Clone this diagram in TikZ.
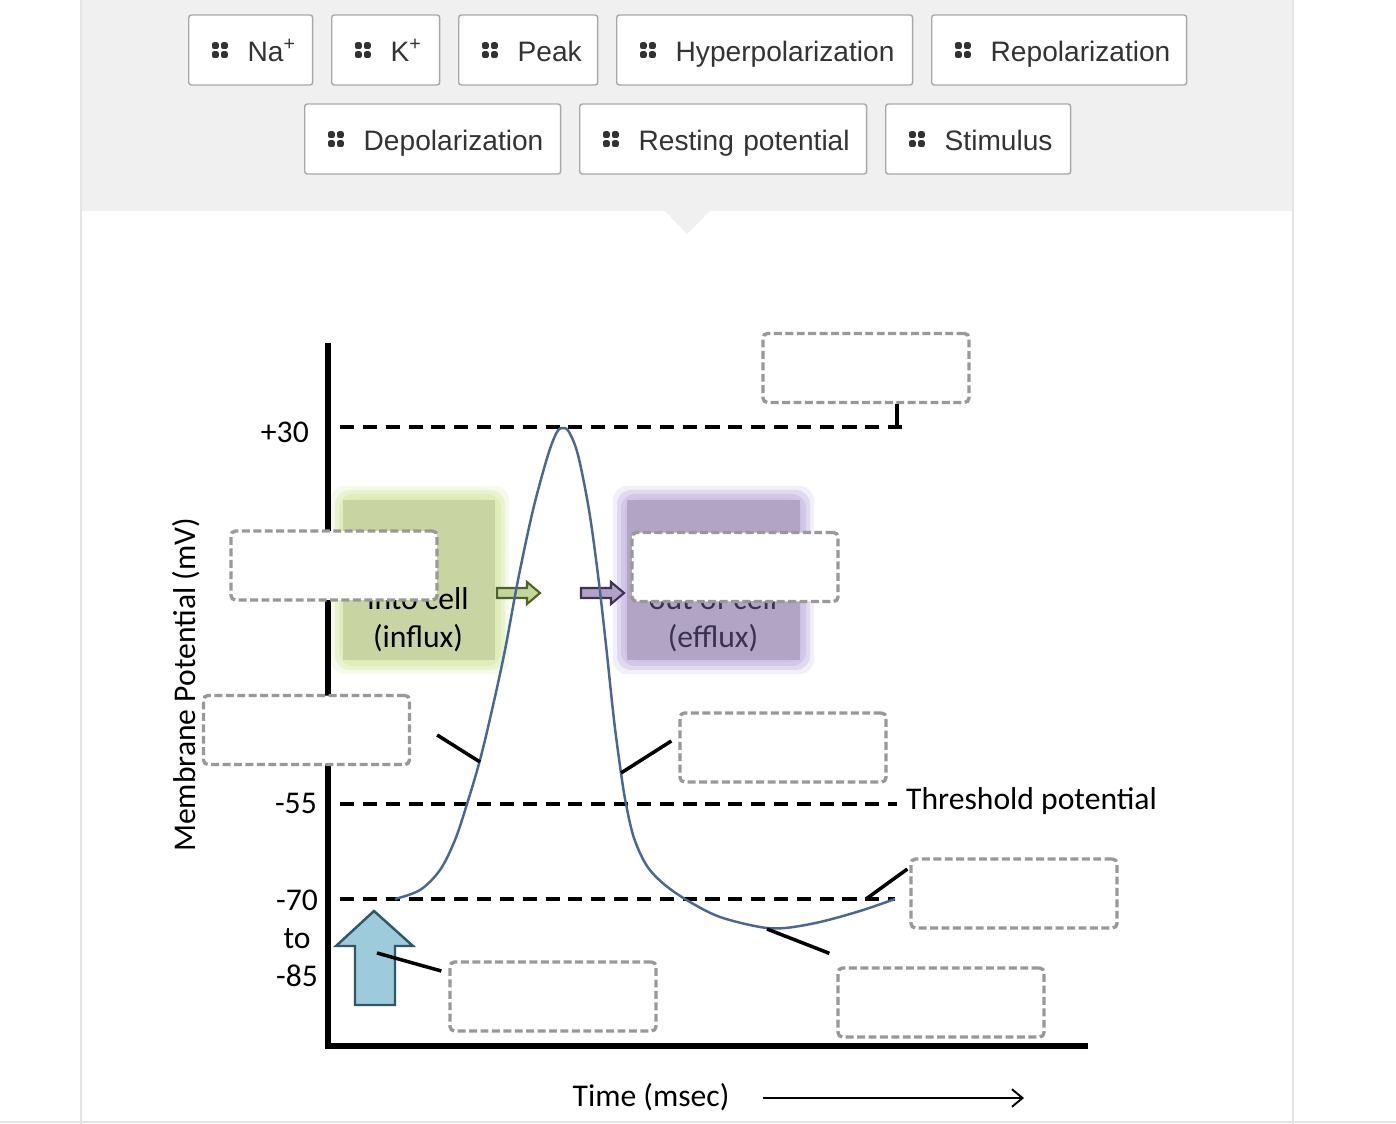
\documentclass[tikz,border=0pt]{standalone}
\usepackage{fontspec}
\setmainfont{Carlito}
\newfontfamily\btnfont{Liberation Sans}
\usetikzlibrary{arrows.meta}
\definecolor{bandgray}{HTML}{F0F0F0}
\definecolor{edgegray}{HTML}{E4E4E4}
\definecolor{btnedge}{HTML}{A8A8A8}
\definecolor{btntext}{HTML}{333333}
\definecolor{slotgray}{HTML}{999999}
\definecolor{curveblue}{HTML}{4A6791}
\definecolor{inglow}{HTML}{DDECB2}
\definecolor{infill}{HTML}{C8D5A2}
\definecolor{outglow}{HTML}{CEC0E5}
\definecolor{outfill}{HTML}{B1A4C5}
\definecolor{intip}{HTML}{C3D69B}
\definecolor{inedge}{HTML}{4F6228}
\definecolor{outtip}{HTML}{B3A2C7}
\definecolor{outedge}{HTML}{3F3151}
\definecolor{stimfill}{HTML}{9DCBDC}
\definecolor{stimedge}{HTML}{2E5866}
\definecolor{effluxtext}{HTML}{3A3150}

\begin{document}
\begin{tikzpicture}[
  x=0.02cm, y=-0.02cm,
  btn/.style={draw=btnedge, fill=white, rounded corners=1.5pt, line width=0.8pt, anchor=west,
    minimum height=1.4cm, inner xsep=0pt, text height=15pt, text depth=1.9pt, align=left,
    text=btntext, font=\btnfont\fontsize{16}{19}\selectfont},
  slot/.style={draw=slotgray, fill=white, dash pattern=on 4.5pt off 2pt, line width=1.9pt,
    rounded corners=2.5pt, minimum width=4.12cm, minimum height=1.38cm},
  level/.style={dash pattern=on 8pt off 5pt, line width=2pt},
  pointer/.style={line width=2pt},
  axis/.style={line width=3pt},
  lbl/.style={font=\fontsize{18}{21.6}\selectfont, align=center}
]
\useasboundingbox (0,0) rectangle (1396,1124);
\fill[white] (0,0) rectangle (1396,1124);

\fill[bandgray] (81,0) rectangle (1293,211);
\fill[bandgray] (665,211) -- (687,234) -- (710,211) -- cycle;
\draw[edgegray, line width=1.2pt] (81,0) -- (81,1124);
\draw[edgegray, line width=1.2pt] (1293,0) -- (1293,1124);
\draw[edgegray, line width=1.2pt] (0,1122) -- (1396,1122);

\node[btn, text width=2.48cm] (bna) at (188,50) {\hspace*{1.18cm}Na\textsuperscript{+}};
\node[btn, text width=2.16cm] (bk) at (331,50) {\hspace*{1.18cm}K\textsuperscript{+}};
\node[btn, text width=2.78cm] (bpeak) at (458,50) {\hspace*{1.18cm}Peak};
\node[btn, text width=5.92cm] (bhyper) at (616,50) {\hspace*{1.18cm}Hyperpolarization};
\node[btn, text width=5.10cm] (brepo) at (931,50) {\hspace*{1.18cm}Repolarization};
\node[btn, text width=5.12cm] (bdepo) at (304,139) {\hspace*{1.18cm}Depolarization};
\node[btn, text width=5.74cm] (brest) at (579,139) {\hspace*{1.18cm}Resting potential};
\node[btn, text width=3.70cm] (bstim) at (885,139) {\hspace*{1.18cm}Stimulus};
\foreach \b in {bna,bk,bpeak,bhyper,brepo,bdepo,brest,bstim}
  \foreach \dx in {0,9}
    \foreach \dy in {-4.5,4.5}
      \fill[btntext, rounded corners=1.2pt] (\b.west) ++(24+\dx,\dy-3.3) rectangle ++(6.8,6.8);

\foreach \g/\o in {14/0.25, 10/0.45, 6/0.7, 2/1}
  \fill[inglow, opacity=\o, rounded corners=8pt] (345-\g,500-\g) rectangle (495+\g,660+\g);
\fill[infill] (343,500) rectangle (495,660);
\foreach \g/\o in {14/0.25, 10/0.45, 6/0.7, 2/1}
  \fill[outglow, opacity=\o, rounded corners=8pt] (627-\g,500-\g) rectangle (800+\g,660+\g);
\fill[outfill] (627,500) rectangle (800,660);
\node[lbl] (naflow) at (418,620) {into cell\\(influx)};
\node[lbl, text=effluxtext] (kflow) at (713,620) {out of cell\\(efflux)};
\foreach \x/\f/\d in {497/intip/inedge, 581/outtip/outedge}
  \draw[fill=\f, draw=\d, line width=1.2pt] (\x,588) -- (\x+30,588) -- (\x+30,582) -- (\x+43,593)
    -- (\x+30,604) -- (\x+30,598) -- (\x,598) -- cycle;

\node[lbl, anchor=east] (lpeak) at (315,432) {+30};
\node[lbl, anchor=east] (lthr) at (323,803) {-55};
\node[lbl] (lrest) at (297,938) {-70\\to\\-85};
\node[lbl, anchor=west] (thr) at (900,801) {Threshold potential};
\node[lbl, rotate=90] (vaxis) at (186,685) {Membrane Potential (mV)};
\node[lbl] (taxis) at (651,1097) {Time (msec)};
\coordinate (tend) at (1024,1098);
\draw[line width=1.1pt, -{Straight Barb[length=6pt,width=10pt]}] ([shift={(27,1)}]taxis.east) -- (tend);

\draw[level] (340,427) -- (908,427);
\draw[level] (340,804) -- (897,804);
\draw[level] (340,899) -- (895,899);

\draw[axis] (328,343) -- (328,1046) -- (1088,1046);

\draw[fill=stimfill, draw=stimedge, line width=1.4pt] (374,911) -- (413,946) -- (395,946) -- (395,1005)
  -- (355,1005) -- (355,946) -- (336,946) -- cycle;
\coordinate (stim) at (377,953);

\draw[curveblue, line width=1.4pt] plot[smooth, tension=0.55] coordinates {
  (395,899) (420,890) (440,870) (455,840) (467,804) (480,760) (492,710) (505,650) (518,580)
  (533,510) (548,455) (557,432) (563,428) (569,432) (578,455) (589,510) (598,575) (606,645)
  (614,720) (621,773) (626,804) (634,838) (647,866) (665,885) (690,902) (720,917) (760,927)
  (785,928) (820,922) (860,911) (895,899)};
\coordinate (peakend) at (897,427);
\coordinate (depoend) at (480,762);
\coordinate (repoend) at (621,773);
\coordinate (restend) at (866,899);
\coordinate (hyperend) at (767,929);

\node[slot] (slotpeak) at (866,368) {};
\node[slot] (slotna) at (334,565.5) {};
\node[slot] (slotk) at (735,567) {};
\node[slot] (slotdepo) at (306.5,730) {};
\node[slot] (slotrepo) at (783,747.5) {};
\node[slot] (slotrest) at (1014,893.5) {};
\node[slot] (slotstim) at (553,996.5) {};
\node[slot] (slothyper) at (941,1002.5) {};

\draw[pointer] (slotpeak.south -| peakend) -- (peakend);
\draw[pointer] ([shift={(26,5)}]slotdepo.east) -- (depoend);
\draw[pointer] ([shift={(-7,-6.5)}]slotrepo.west) -- (repoend);
\draw[pointer] ([shift={(-2,-24.5)}]slotrest.west) -- (restend);
\draw[pointer] ([shift={(-7,-25.5)}]slotstim.west) -- (stim);
\draw[pointer] ([shift={(-7,-13)}]slothyper.north west) -- (hyperend);

\end{tikzpicture}
\end{document}
